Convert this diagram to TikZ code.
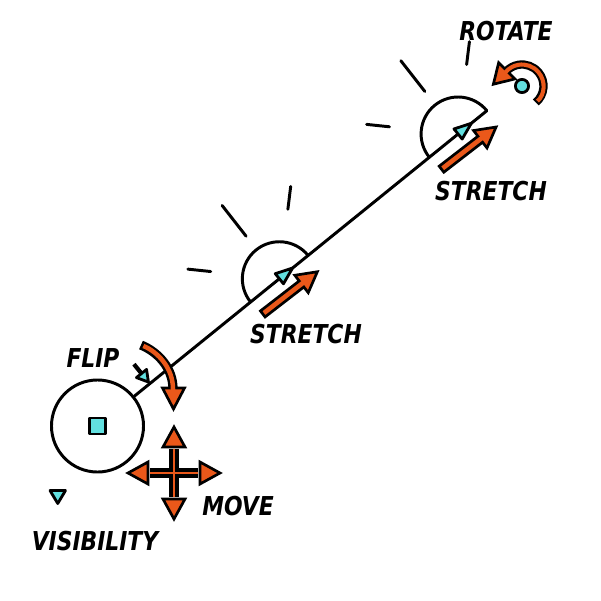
\documentclass[tikz,border=0pt]{standalone}
\usepackage{fontspec}
\newfontfamily\lblfont[FakeStretch=0.84]{DejaVu Sans}
\usetikzlibrary{calc}
\definecolor{hcyan}{RGB}{98,224,224}
\definecolor{horange}{RGB}{234,88,26}
\begin{document}
\begin{tikzpicture}[x=0.025cm, y=-0.025cm, line width=2.1pt, line cap=round,
  lbl/.style={inner sep=0pt, font=\lblfont\bfseries\itshape\fontsize{18.5}{20}\selectfont},
  hnd/.style={fill=hcyan, draw=black, line width=2pt, line join=round},
  fat/.style={fill=horange, draw=black, line width=1.9pt, line join=miter, line cap=butt},
  core/.style={draw=horange, line width=#1, line cap=butt},
  shaft/.style={draw=black, line width=#1, line cap=butt}]
  \useasboundingbox (0,0) rectangle (601,601);
  % hub, and the two stretch handles along the arm (angle -39 in pixel axes)
  \node[circle, draw, minimum size=2.3cm, inner sep=0pt] (hub) at (97.5,426) {};
  \node[hnd, minimum size=0.4cm, inner sep=0pt] (sq) at (hub) {};
  \coordinate (p0) at ($(hub.center)+(-39:46)$);
  \coordinate (s1) at ($(p0)+(-39:188)$);
  \coordinate (s2) at ($(p0)+(-39:418)$);
  \coordinate (p1) at ($(s2)+(-39:37)$);
  \draw (hub) -- (p1);
  % half discs
  \draw ($(s1)+(141:37)$) arc[start angle=141, end angle=321, radius=37];
  \draw ($(s2)+(141:37)$) arc[start angle=141, end angle=321, radius=37];
  % short rays
  \draw ($(s1)+(186:69)$) -- ($(s1)+(186:92)$);
  \draw ($(s1)+(232:54)$) -- ($(s1)+(232:93)$);
  \draw ($(s1)+(277:70)$) -- ($(s1)+(277:93)$);
  \draw ($(s2)+(186:69)$) -- ($(s2)+(186:92)$);
  \draw ($(s2)+(232:54)$) -- ($(s2)+(232:93)$);
  \draw ($(s2)+(277:70)$) -- ($(s2)+(277:93)$);
  % cyan handles
  \draw[hnd] ($(s1)+(-39:17)$) -- ($(s1)+(51:6.5)$) -- ($(s1)+(231:6.5)$) -- cycle;
  \draw[hnd] ($(s2)+(-39:17)$) -- ($(s2)+(51:6.5)$) -- ($(s2)+(231:6.5)$) -- cycle;
  \draw[hnd] (50,490.5) -- (65.5,490.5) -- (57.75,503.5) -- cycle;
  \coordinate (fb) at (141.5,373.5);
  \draw[shaft=3pt] ($(fb)+(231:12)$) -- (fb);
  \draw[hnd] ($(fb)+(51:11)$) -- ($(fb)+(-39:6.5)$) -- ($(fb)+(141:6.5)$) -- cycle;
  % stretch arrows
  \begin{scope}[shift={($(s1)+(38,-7)$)}, rotate=37.7]
    \draw[fat] (0,0) -- (-20,11) -- (-20,3.8) -- (-69,3.8) -- (-69,-3.8) -- (-20,-3.8) -- (-20,-11) -- cycle;
  \end{scope}
  \begin{scope}[shift={($(s2)+(38,-7)$)}, rotate=37.7]
    \draw[fat] (0,0) -- (-20,11) -- (-20,3.8) -- (-69,3.8) -- (-69,-3.8) -- (-20,-3.8) -- (-20,-11) -- cycle;
  \end{scope}
  % flip arrow
  \draw[shaft=6.6pt] (141,345) .. controls (158,352) and (173,368) .. (173,389);
  \draw[fat] (173.5,409) -- (162.5,388) -- (184.5,388) -- cycle;
  \draw[core=3.2pt, shorten <=1.8pt] (141,345) .. controls (158,352) and (173,368) .. (173,389) -- (173,393);
  % move cross
  \coordinate (mv) at (174,473);
  \draw[shaft=7pt] (150,473) -- (198,473);
  \draw[shaft=7pt] (174,449) -- (174,497);
  \draw[core=1.4pt] (150,473) -- (198,473);
  \draw[core=1.4pt] (174,449) -- (174,497);
  \draw[fat] (220,473) -- (200,462) -- (200,484) -- cycle;
  \draw[fat] (128,473) -- (148,462) -- (148,484) -- cycle;
  \draw[fat] (174,427) -- (163,447) -- (185,447) -- cycle;
  \draw[fat] (174,519) -- (163,499) -- (185,499) -- cycle;
  % rotate arrow
  \coordinate (rc) at (522,86);
  \node[hnd, circle, minimum size=0.33cm, inner sep=0pt] (rdot) at (rc) {};
  \coordinate (rb) at ($(rc)+(-135:21.5)$);
  \draw[shaft=5.9pt] ($(rc)+(50:21.5)$) arc[start angle=50, end angle=-135, radius=21.5];
  \draw[fat] ($(rb)+(135:19)$) -- ($(rb)+(-135:11.5)$) -- ($(rb)+(45:11.5)$) -- cycle;
  \draw[core=2.9pt, shorten <=1.5pt] ($(rc)+(50:21.5)$) arc[start angle=50, end angle=-142, radius=21.5];
  % labels
  \node[lbl] (rotlbl) at (506,31) {ROTATE};
  \node[lbl] (st2lbl) at (491,191) {STRETCH};
  \node[lbl] (st1lbl) at (306,334) {STRETCH};
  \node[lbl] (fliplbl) at (93,358) {FLIP};
  \node[lbl] (movelbl) at (238,506) {MOVE};
  \node[lbl] (vislbl) at (95,541) {VISIBILITY};
\end{tikzpicture}
\end{document}
